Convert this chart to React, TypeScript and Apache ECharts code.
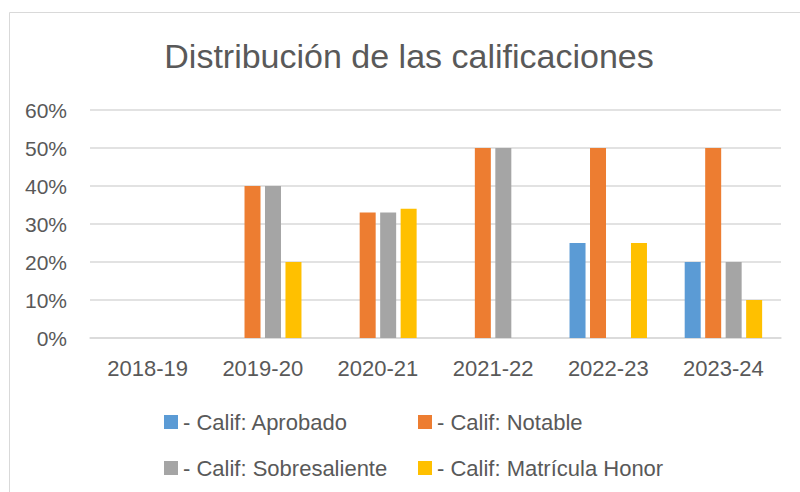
import React, { useEffect, useRef } from "react";
import * as echarts from "echarts";

const title = "Distribución de las calificaciones";
const categories = ["2018-19", "2019-20", "2020-21", "2021-22", "2022-23", "2023-24"];
const seriesNames = [
  "- Calif: Aprobado",
  "- Calif: Notable",
  "- Calif: Sobresaliente",
  "- Calif: Matrícula Honor",
];
const aprobado = [0, 0, 0, 0, 25, 20];
const notable = [0, 40, 33, 50, 50, 50];
const sobresaliente = [0, 40, 33, 50, 0, 20];
const matricula = [0, 20, 34, 0, 25, 10];
const colors = ["#5B9BD5", "#ED7D31", "#A5A5A5", "#FFC000"];

const FONT = "'Liberation Sans', Arial, sans-serif";
const TEXT = "#595959";

export default function App() {
  const ref = useRef<HTMLDivElement>(null);
  useEffect(() => {
    if (!ref.current) return;
    const chart = echarts.init(ref.current, undefined, { renderer: "svg" });
    const data = [aprobado, notable, sobresaliente, matricula];
    chart.setOption({
      animation: false,
      textStyle: { fontFamily: FONT },
      title: {
        text: title,
        left: 404,
        top: 34,
        textAlign: "center",
        textStyle: { fontFamily: FONT, fontSize: 34, fontWeight: "normal", color: TEXT },
      },
      graphic: [
        {
          type: "rect",
          shape: { x: 9.5, y: 12.5, width: 820, height: 520 },
          style: { fill: "none", stroke: "#D9D9D9", lineWidth: 1 },
          silent: true,
        },
      ],
      legend: [
        {
          data: [seriesNames[0], seriesNames[2]],
          orient: "vertical",
          left: 159,
          top: 405,
          itemWidth: 14,
          itemHeight: 14,
          itemGap: 22,
          icon: "rect",
          textStyle: { fontFamily: FONT, fontSize: 22, color: TEXT, lineHeight: 24 },
        },
        {
          data: [seriesNames[1], seriesNames[3]],
          orient: "vertical",
          left: 413,
          top: 405,
          itemWidth: 14,
          itemHeight: 14,
          itemGap: 22,
          icon: "rect",
          textStyle: { fontFamily: FONT, fontSize: 22, color: TEXT, lineHeight: 24 },
        },
      ],
      grid: { left: 90, right: 19, top: 110, bottom: 154, containLabel: false },
      xAxis: {
        type: "category",
        data: categories,
        axisLine: { lineStyle: { color: "#D9D9D9", width: 1.5 } },
        axisTick: { show: false },
        axisLabel: { color: TEXT, fontSize: 22, fontFamily: FONT, margin: 19 },
      },
      yAxis: {
        type: "value",
        min: 0,
        max: 60,
        interval: 10,
        axisLine: { show: false },
        axisTick: { show: false },
        splitLine: { lineStyle: { color: "#D9D9D9", width: 1.5 } },
        axisLabel: { color: TEXT, fontSize: 21, fontFamily: FONT, margin: 23, formatter: "{value}%" },
      },
      series: seriesNames.map((name, i) => ({
        name,
        type: "bar",
        data: data[i],
        barWidth: 16,
        barGap: "28%",
        itemStyle: { color: colors[i] },
      })),
    });
    return () => chart.dispose();
  }, []);
  return (
    <div
      ref={ref}
      style={{ position: "fixed", left: 0, top: 0, width: 800, height: 492, background: "#fff" }}
    />
  );
}
